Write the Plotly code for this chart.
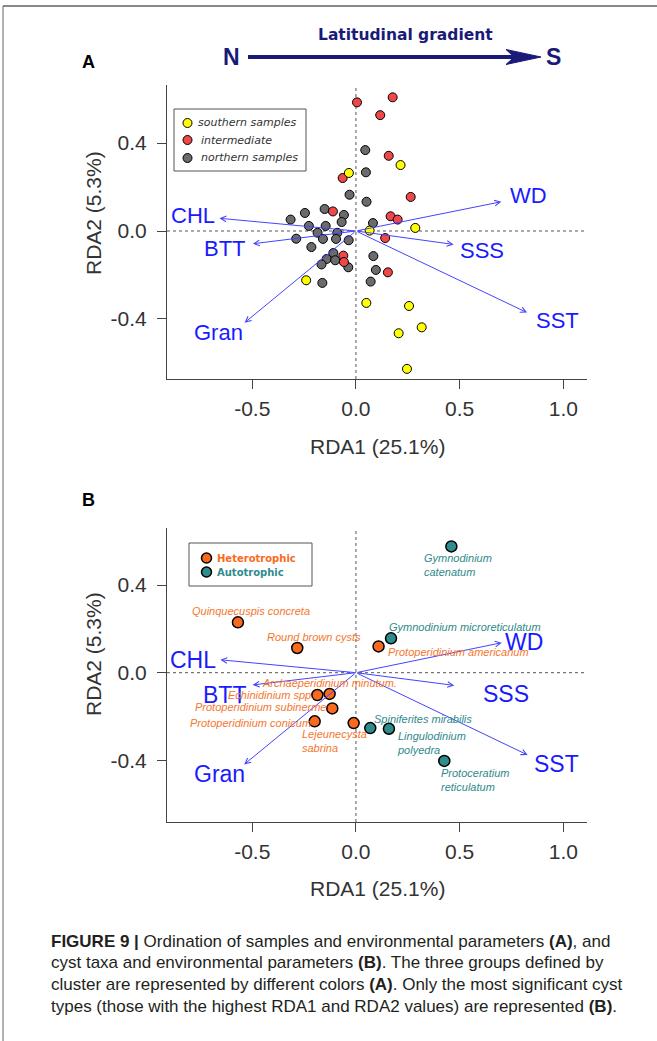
import plotly.graph_objects as go

W, H = 657, 1041

# ---------------- Panel A data (sample scores) ----------------
south_x = [-0.034, 0.215, 0.286, 0.066, -0.240, 0.050, 0.256, 0.317, 0.206, 0.246]
south_y = [0.264, 0.300, 0.014, 0.002, -0.224, -0.327, -0.341, -0.438, -0.465, -0.627]

inter_x = [0.005, 0.177, 0.117, 0.158, -0.064, 0.264, -0.111, 0.167, 0.201, 0.141, -0.061, -0.058, 0.154]
inter_y = [0.585, 0.608, 0.527, 0.342, 0.241, 0.155, 0.089, 0.067, 0.052, -0.032, -0.112, -0.141, -0.188]

north_x = [0.045, 0.048, -0.031, 0.051, -0.151, -0.246, -0.315, -0.058, -0.069, 0.082,
           -0.227, -0.146, -0.185, -0.090, -0.288, -0.159, -0.096, -0.035, -0.215, -0.109,
           -0.141, -0.100, -0.166, -0.037, 0.084, 0.096, 0.071, -0.162]
north_y = [0.368, 0.267, 0.165, 0.133, 0.100, 0.082, 0.052, 0.073, 0.041, 0.036,
           0.023, 0.023, -0.008, -0.008, -0.035, -0.036, -0.036, -0.042, -0.073, -0.100,
           -0.127, -0.133, -0.152, -0.165, -0.114, -0.177, -0.230, -0.236]

# Environmental vectors
env_names = ["WD", "CHL", "BTT", "SSS", "SST", "Gran"]
envA_x = [0.701, -0.658, -0.497, 0.471, 0.825, -0.537]
envA_y = [0.133, 0.058, -0.058, -0.061, -0.371, -0.417]
envB_x = [0.703, -0.654, -0.498, 0.474, 0.828, -0.539]
envB_y = [0.137, 0.059, -0.056, -0.058, -0.376, -0.419]

# ---------------- Panel B data (cyst taxa scores) ----------------
het_names = ["Quinquecuspis concreta", "Round brown cysts", "Protoperidinium americanum",
             "Archaeperidinium minutum.", "Echinidinium spp.", "Protoperidinium subinerme",
             "Protoperidinium conicum", "Lejeunecysta<br>sabrina"]
het_x = [-0.569, -0.283, 0.109, -0.127, -0.186, -0.114, -0.199, -0.011]
het_y = [0.230, 0.113, 0.120, -0.097, -0.102, -0.163, -0.222, -0.230]

aut_names = ["Gymnodinium<br>catenatum", "Gymnodinium microreticulatum", "Spiniferites mirabilis",
             "Lingulodinium<br>polyedra", "Protoceratium<br>reticulatum"]
aut_x = [0.460, 0.169, 0.069, 0.159, 0.426]
aut_y = [0.577, 0.157, -0.253, -0.256, -0.403]

x_ticks = [-0.5, 0.0, 0.5, 1.0]
x_ticktext = ["-0.5", "0.0", "0.5", "1.0"]
y_ticks = [-0.4, 0.0, 0.4]
y_ticktext = ["-0.4", "0.0", "0.4"]

# ---------------- styling / layout helpers ----------------
def px(x):
    return x / W

def py(y):
    return 1 - y / H

ARIAL = "Liberation Sans, Arial, sans-serif"
VERD = "DejaVu Sans, Verdana, sans-serif"
BLUE_LINE = "#4444FF"
BLUE_TXT = "#1A1AFF"
ORANGE = "#FA6A1E"
ORANGE_TXT = "#F6762E"
TEAL = "#2F8C8C"
TEAL_TXT = "#2E8A8A"
NAVY = "#1A1A78"

# label offsets (pixels) for env labels relative to arrow tips
envA_off = [(27, 6), (-26, 3), (-28, -5), (28, -6), (30, -8), (-26, -10)]
envB_off = [(22, 1), (-27, 0), (-28, -10), (52, -9), (29, -9), (-25, -10)]
# label offsets (pixels) for taxa labels: (dx to left edge, dy upward)
het_off = [(-48, 11), (-32, 11), (7, -6), (-70, 11), (-91, 0), (-139, 1), (-127, -2), (-54, -18)]
aut_off = [(-29, -19), (-4, 11), (2, 9), (6, -14), (-5, -19)]

# plot domains (pixels)
XL, XR = 167, 587
A_T, A_B = 85, 379
B_T, B_B = 528, 822
xr = [-0.911, 1.114]
yrA = [-0.673, 0.664]
yrB = [-0.682, 0.661]

fig = go.Figure()

mk = dict(line=dict(color="black", width=1), size=9)
fig.add_trace(go.Scatter(x=north_x, y=north_y, mode="markers", xaxis="x", yaxis="y",
                         marker=dict(color="#6B6B6B", **mk), showlegend=False))
fig.add_trace(go.Scatter(x=inter_x, y=inter_y, mode="markers", xaxis="x", yaxis="y",
                         marker=dict(color="#F04848", **mk), showlegend=False))
fig.add_trace(go.Scatter(x=south_x, y=south_y, mode="markers", xaxis="x", yaxis="y",
                         marker=dict(color="#FFFF00", **mk), showlegend=False))

mkB = dict(line=dict(color="black", width=1.5), size=11)
fig.add_trace(go.Scatter(x=het_x, y=het_y, mode="markers", xaxis="x2", yaxis="y2",
                         marker=dict(color=ORANGE, **mkB), showlegend=False))
fig.add_trace(go.Scatter(x=aut_x, y=aut_y, mode="markers", xaxis="x2", yaxis="y2",
                         marker=dict(color=TEAL, **mkB), showlegend=False))

ann = []
shapes = []

def txt(x, y, text, font, xanchor="center", **kw):
    ann.append(dict(x=px(x), y=py(y), xref="paper", yref="paper", showarrow=False,
                    xanchor=xanchor, yanchor="middle", text=text, font=font, **kw))

def env_arrows(xs, ys, offs, xref, yref, fsize):
    for n, x, y, (dx, dy) in zip(env_names, xs, ys, offs):
        ann.append(dict(x=x, y=y, ax=0, ay=0, xref=xref, yref=yref, axref=xref, ayref=yref,
                        showarrow=True, arrowhead=5, arrowsize=1.1, arrowwidth=1,
                        arrowcolor=BLUE_LINE, text=""))
        ann.append(dict(x=x, y=y, xref=xref, yref=yref, showarrow=False, text=n,
                        xanchor="center", yanchor="middle",
                        xshift=dx, yshift=dy, font=dict(family=ARIAL, size=fsize, color=BLUE_TXT)))

env_arrows(envA_x, envA_y, envA_off, "x", "y", 22)
env_arrows(envB_x, envB_y, envB_off, "x2", "y2", 23)

for n, x, y, (dx, dy) in zip(het_names, het_x, het_y, het_off):
    ann.append(dict(x=x, y=y, xref="x2", yref="y2", showarrow=False, text="<i>%s</i>" % n,
                    xanchor="left", yanchor="middle", align="left", xshift=dx, yshift=dy,
                    font=dict(family=ARIAL, size=11, color=ORANGE_TXT)))
for n, x, y, (dx, dy) in zip(aut_names, aut_x, aut_y, aut_off):
    ann.append(dict(x=x, y=y, xref="x2", yref="y2", showarrow=False, text="<i>%s</i>" % n,
                    xanchor="left", yanchor="middle", align="left", xshift=dx, yshift=dy,
                    font=dict(family=ARIAL, size=11, color=TEAL_TXT)))

# dotted zero lines
for xa, ya in [("x", "y"), ("x2", "y2")]:
    shapes.append(dict(type="line", xref=xa, yref=ya + " domain", x0=0, x1=0, y0=0, y1=1,
                       line=dict(color="#555", width=1, dash="dot"), layer="below"))
    shapes.append(dict(type="line", xref=xa + " domain", yref=ya, x0=0, x1=1, y0=0, y1=0,
                       line=dict(color="#555", width=1, dash="dot"), layer="below"))

# legends (drawn)
def circle(cx, cy, r, color, lw=1):
    shapes.append(dict(type="circle", xref="paper", yref="paper",
                       x0=px(cx - r), x1=px(cx + r), y0=py(cy + r), y1=py(cy - r),
                       fillcolor=color, line=dict(color="black", width=lw)))

shapes.append(dict(type="rect", xref="paper", yref="paper", x0=px(174), x1=px(306),
                   y0=py(171), y1=py(109), line=dict(color="#555", width=1), fillcolor="white"))
for (cy, col, t, tx) in [(123, "#FFFF00", "southern samples", 196),
                         (140, "#F04848", "intermediate", 199),
                         (158, "#6B6B6B", "northern samples", 199)]:
    circle(187.5, cy, 4.5, col)
    txt(tx, cy, "<i>%s</i>" % t, dict(family=VERD, size=11, color="#333"), xanchor="left")

shapes.append(dict(type="rect", xref="paper", yref="paper", x0=px(189), x1=px(312),
                   y0=py(586), y1=py(543), line=dict(color="#555", width=1), fillcolor="white"))
for (cy, col, t) in [(558, ORANGE, "Heterotrophic"), (572, TEAL, "Autotrophic")]:
    circle(206.5, cy, 5, col, 1.5)
    txt(215, cy, "<b>%s</b>" % t, dict(family=VERD, size=10, color=col), xanchor="left")

# axis titles
axfont = dict(family=ARIAL, size=21, color="#333")
for (ytitle_y, xt_y) in [(213, A_B + 67), (654, B_B + 66)]:
    txt(93, ytitle_y, "RDA2 (5.3%)", axfont, textangle=-90)
    txt((XL + XR) / 2, xt_y, "RDA1 (25.1%)", axfont)

# panel letters
txt(88, 62, "<b>A</b>", dict(family=ARIAL, size=18, color="black"))
txt(88, 500, "<b>B</b>", dict(family=ARIAL, size=18, color="black"))

# latitudinal gradient arrow
txt(405, 35, "<b>Latitudinal gradient</b>", dict(family=VERD, size=15.5, color=NAVY))
NS_font = dict(family="Liberation Sans Narrow, " + ARIAL, size=23, color=NAVY)
txt(231, 57, "<b>N</b>", NS_font)
txt(553, 57, "<b>S</b>", NS_font)
shapes.append(dict(type="line", xref="paper", yref="paper", x0=px(248), x1=px(518),
                   y0=py(57), y1=py(57), line=dict(color=NAVY, width=4)))
shapes.append(dict(type="path", xref="paper", yref="paper",
                   path="M %f,%f L %f,%f L %f,%f L %f,%f Z" % (
                       px(541), py(57), px(506), py(49.5), px(514), py(57), px(506), py(64.5)),
                   fillcolor=NAVY, line=dict(color=NAVY, width=1)))

# frame lines
shapes.append(dict(type="line", xref="paper", yref="paper", x0=px(3), x1=1, y0=py(6), y1=py(6),
                   line=dict(color="#888", width=2)))
shapes.append(dict(type="line", xref="paper", yref="paper", x0=px(3), x1=px(3), y0=py(6), y1=0,
                   line=dict(color="#666", width=1)))

# caption
cap_lines = [
    "<b>FIGURE 9 |</b> Ordination of samples and environmental parameters <b>(A)</b>, and",
    "cyst taxa and environmental parameters <b>(B)</b>. The three groups defined by",
    "cluster are represented by different colors <b>(A)</b>. Only the most significant cyst",
    "types (those with the highest RDA1 and RDA2 values) are represented <b>(B)</b>.",
]
for i, t in enumerate(cap_lines):
    txt(49, 941 + 21.7 * i, t, dict(family=ARIAL, size=17, color="#231F20"), xanchor="left")

axis_common = dict(showline=True, linecolor="#444", linewidth=1, ticks="outside", ticklen=9,
                   tickcolor="#444", showgrid=False, zeroline=False,
                   tickfont=dict(family=ARIAL, size=21, color="#333"))

fig.update_layout(
    width=W, height=H, margin=dict(l=0, r=0, t=0, b=0),
    paper_bgcolor="white", plot_bgcolor="white", showlegend=False,
    xaxis=dict(domain=[px(XL), px(XR)], range=xr, tickvals=x_ticks, ticktext=x_ticktext,
               anchor="y", ticklabelstandoff=2, **axis_common),
    yaxis=dict(domain=[py(A_B), py(A_T)], range=yrA, tickvals=y_ticks, ticktext=y_ticktext,
               anchor="x", ticklabelstandoff=6, **axis_common),
    xaxis2=dict(domain=[px(XL), px(XR)], range=xr, tickvals=x_ticks, ticktext=x_ticktext,
                anchor="y2", ticklabelstandoff=2, **axis_common),
    yaxis2=dict(domain=[py(B_B), py(B_T)], range=yrB, tickvals=y_ticks, ticktext=y_ticktext,
                anchor="x2", ticklabelstandoff=6, **axis_common),
    annotations=ann, shapes=shapes,
)

fig.write_html("out.html")
